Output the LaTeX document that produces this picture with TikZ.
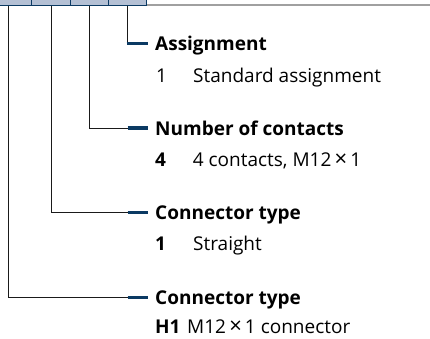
\documentclass[tikz,border=0pt]{standalone}
\usepackage{fontspec}
\setmainfont{Open Sans}
\definecolor{navy}{HTML}{0B3A63}
\definecolor{boxfill}{HTML}{B4C0D4}
\definecolor{rulegray}{HTML}{A0A0A0}
\definecolor{ink}{HTML}{1A1A1A}
\newcommand{\bigx}{\,{\fontsize{22}{24}\selectfont ×}\,}
\begin{document}
\begin{tikzpicture}[x=1pt,y=-1pt,
  codebox/.style={draw=navy,line width=1pt,fill=boxfill,minimum width=38.3pt,minimum height=12pt,inner sep=0pt},
  conn/.style={draw=ink,line width=1pt},
  bar/.style={draw=navy,line width=3.4pt},
  head/.style={anchor=base west,inner sep=0pt,font=\fontsize{19}{24}\selectfont\bfseries,text=black},
  key/.style={anchor=base west,inner sep=0pt,font=\fontsize{19}{24}\selectfont,text=black},
  bkey/.style={anchor=base west,inner sep=0pt,font=\fontsize{19}{24}\selectfont\bfseries,text=black},
  desc/.style={anchor=base west,inner sep=0pt,font=\fontsize{19}{24}\selectfont,text=black}]
\useasboundingbox (0,0) rectangle (430,338);
% top rule
\draw[draw=rulegray,line width=1.4pt] (147,5) -- (430,5);
% code boxes
\node[codebox] (b1) at (12.55,-1) {};
\node[codebox] (b2) at (50.85,-1) {};
\node[codebox] (b3) at (89.15,-1) {};
\node[codebox] (b4) at (127.45,-1) {};
% connector start points
\coordinate (c1) at (8.3,5.5);
\coordinate (c2) at (51,5.5);
\coordinate (c3) at (89.3,5.5);
\coordinate (c4) at (127.5,5.5);
% bar ends
\coordinate (k1) at (127.5,297.5);
\coordinate (k2) at (127.5,212.5);
\coordinate (k3) at (127.5,128);
\coordinate (k4) at (127.5,43.5);
\coordinate (e1) at (148,297.5);
\coordinate (e2) at (148,212.5);
\coordinate (e3) at (148,128);
\coordinate (e4) at (148,43.5);
% connectors
\draw[conn] (c1) |- (k1);
\draw[conn] (c2) |- (k2);
\draw[conn] (c3) |- (k3);
\draw[conn] (c4) -- (k4);
\draw[bar] (k1) -- (e1);
\draw[bar] (k2) -- (e2);
\draw[bar] (k3) -- (e3);
\draw[bar] (126.5,43.5) -- (e4);
% texts
\node[head] (h4) at (155,50.7) {Assignment};
\node[key]  (n4) at (156,82.3) {1};
\node[desc] (d4) at (193,82.3) {Standard assignment};
\node[head] (h3) at (155,135) {Number of contacts};
\node[bkey] (n3) at (155,166.7) {4};
\node[desc] (d3) at (192.7,166.7) {4 contacts, M12\bigx 1};
\node[head] (h2) at (155,219.8) {Connector type};
\node[bkey] (n2) at (155,250.5) {1};
\node[desc] (d2) at (193,250.5) {Straight};
\node[head] (h1) at (155,304.5) {Connector type};
\node[bkey] (n1) at (155,333.5) {H1};
\node[desc] (d1) at (187,333.5) {M12\bigx 1 connector};
\end{tikzpicture}
\end{document}
